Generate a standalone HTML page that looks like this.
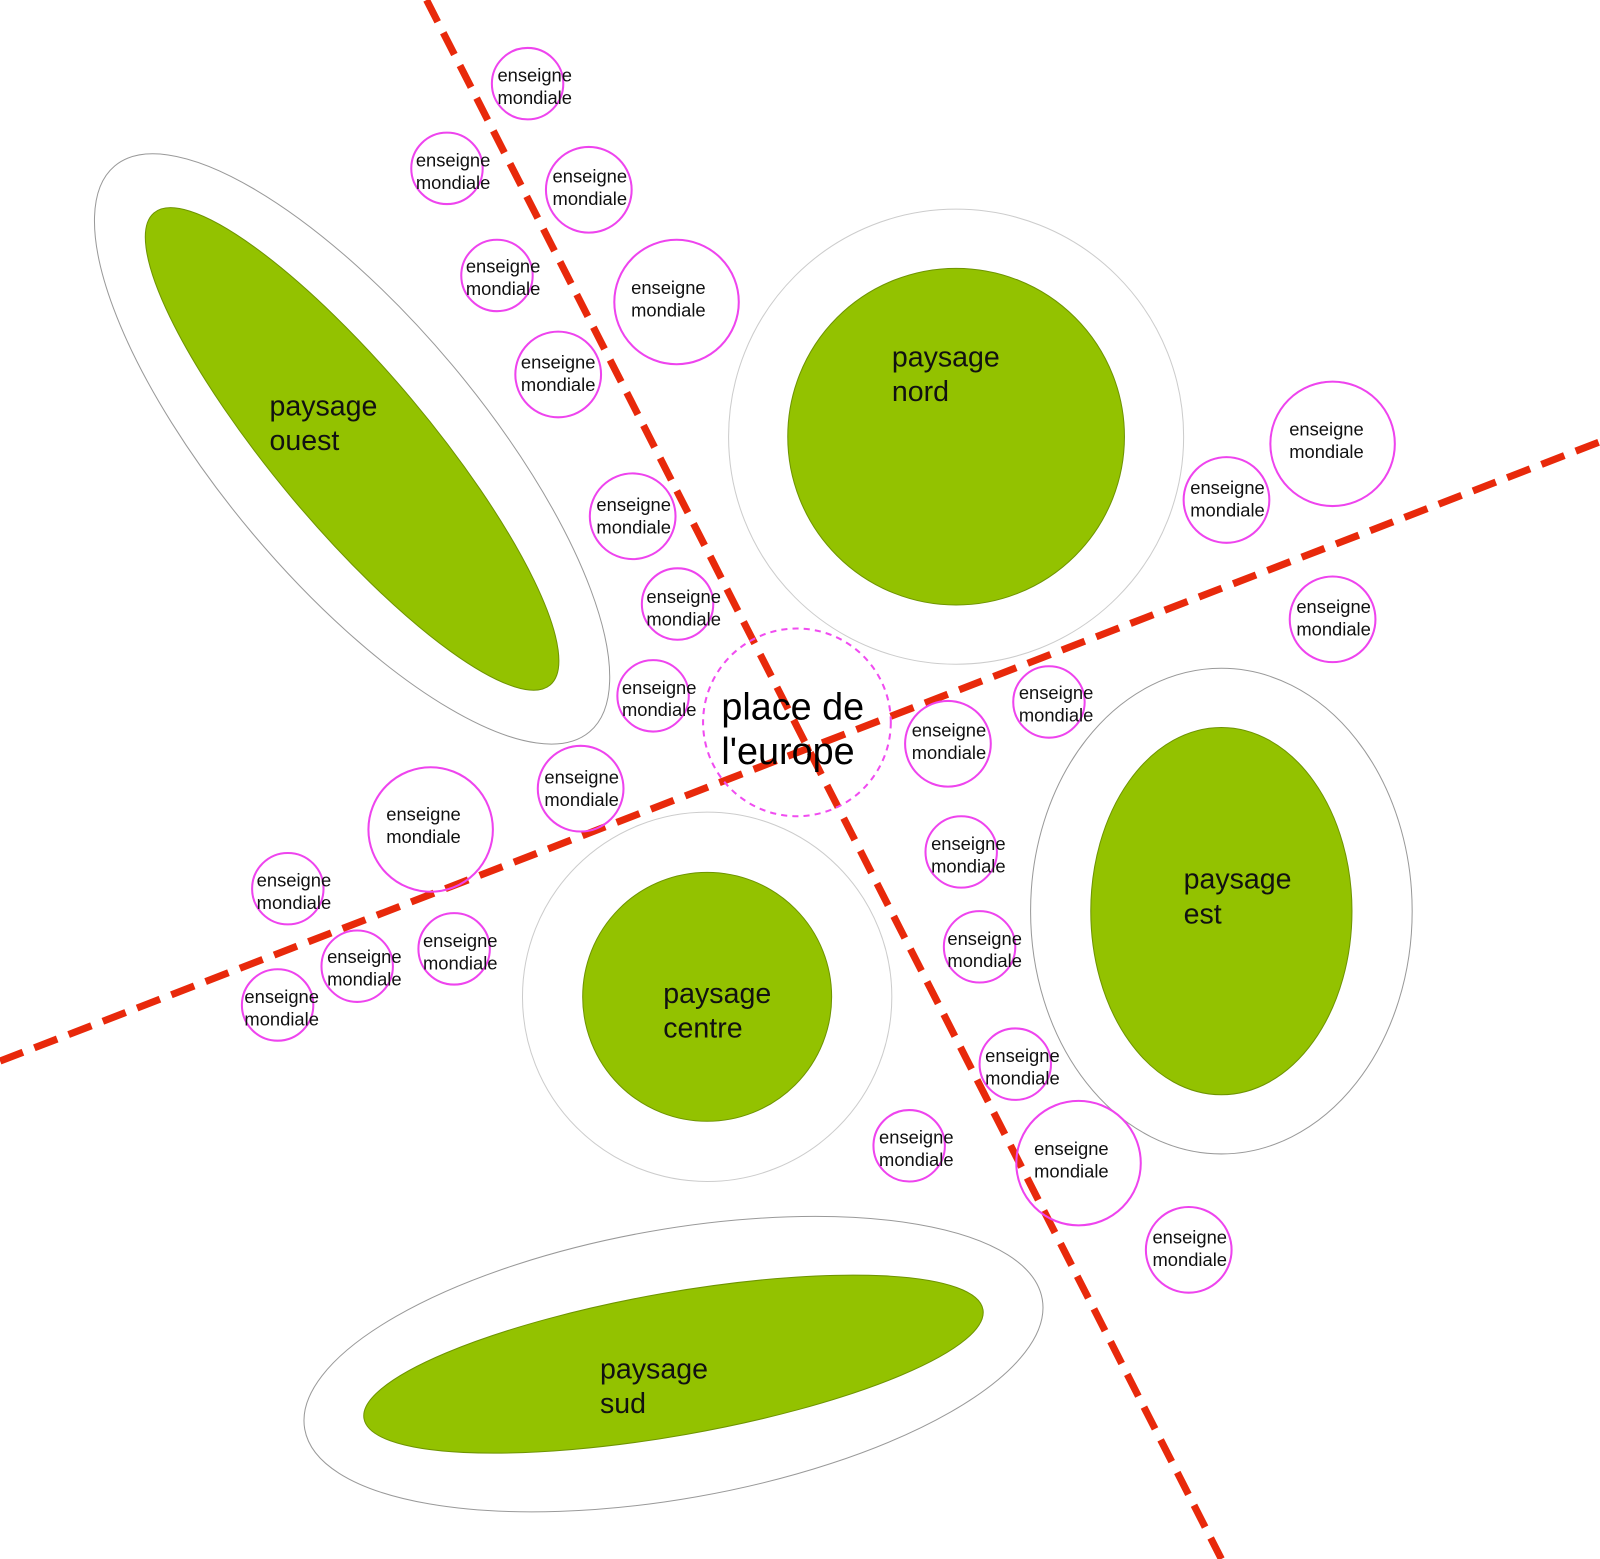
<!DOCTYPE html>
<html><head><meta charset="utf-8"><style>html,body{margin:0;padding:0;background:#fff}svg{display:block}</style></head>
<body>
<svg width="1600" height="1559" viewBox="0 0 1568 1528" xmlns="http://www.w3.org/2000/svg" font-family="Liberation Sans, sans-serif">
<g fill="#fff" stroke="#999" stroke-width="1">
<ellipse cx="345" cy="440" rx="362" ry="128" transform="rotate(50 345 440)"/>
<circle cx="937" cy="428" r="223" stroke="#ccc"/>
<ellipse cx="1197" cy="893" rx="187" ry="238"/>
<circle cx="693" cy="977" r="181" stroke="#ccc"/>
<ellipse cx="660" cy="1337" rx="367" ry="132" transform="rotate(-10 660 1337)"/>
</g>
<g fill="#93c200" stroke="#6e9400" stroke-width="1">
<ellipse cx="345" cy="440" rx="302" ry="76" transform="rotate(50 345 440)"/>
<circle cx="937" cy="428" r="165"/>
<ellipse cx="1197" cy="893" rx="128" ry="180"/>
<circle cx="693" cy="977" r="122"/>
<ellipse cx="660" cy="1337" rx="308" ry="70" transform="rotate(-10 660 1337)"/>
</g>
<g font-size="28" fill="#111">
<text x="264" y="407">paysage</text><text x="264" y="441">ouest</text>
<text x="874" y="359">paysage</text><text x="874" y="393">nord</text>
<text x="1160" y="871">paysage</text><text x="1160" y="905">est</text>
<text x="650" y="983">paysage</text><text x="650" y="1017">centre</text>
<text x="588" y="1351">paysage</text><text x="588" y="1385">sud</text>
</g>
<g stroke="#e8290b" stroke-width="7" stroke-dasharray="24 12" fill="none">
<line x1="418" y1="0" x2="1197" y2="1528"/>
<line x1="0" y1="1040" x2="1568" y2="433"/>
</g>
<circle cx="781" cy="708" r="92" fill="none" stroke="#f04cf0" stroke-width="2" stroke-dasharray="6 5"/>
<g font-size="37" fill="#000"><text x="707" y="705">place de</text><text x="707" y="749">l'europe</text></g>
<g fill="none" stroke="#ee44ee" stroke-width="2">
<circle cx="517" cy="82" r="35"/><circle cx="438" cy="165" r="35"/><circle cx="577" cy="186" r="42"/>
<circle cx="487" cy="270" r="35"/><circle cx="663" cy="296" r="61"/><circle cx="547" cy="367" r="42"/>
<circle cx="620" cy="506" r="42"/><circle cx="664" cy="592" r="35"/><circle cx="640" cy="682" r="35"/>
<circle cx="569" cy="773" r="42"/><circle cx="422" cy="813" r="61"/><circle cx="282" cy="871" r="35"/>
<circle cx="350" cy="947" r="35"/><circle cx="445" cy="930" r="35"/><circle cx="272" cy="985" r="35"/>
<circle cx="929" cy="729" r="42"/><circle cx="1028" cy="688" r="35"/><circle cx="942" cy="835" r="35"/>
<circle cx="960" cy="928" r="35"/><circle cx="995" cy="1043" r="35"/><circle cx="891" cy="1123" r="35"/>
<circle cx="1057" cy="1140" r="61"/><circle cx="1165" cy="1225" r="42"/><circle cx="1306" cy="607" r="42"/>
<circle cx="1202" cy="490" r="42"/><circle cx="1306" cy="435" r="61"/>
</g>
<g font-size="18" fill="#111" text-anchor="middle">
<text x="524" y="80">enseigne</text><text x="524" y="102">mondiale</text>
<text x="444" y="163">enseigne</text><text x="444" y="185">mondiale</text>
<text x="578" y="179">enseigne</text><text x="578" y="201">mondiale</text>
<text x="493" y="267">enseigne</text><text x="493" y="289">mondiale</text>
<text x="655" y="288">enseigne</text><text x="655" y="310">mondiale</text>
<text x="547" y="361">enseigne</text><text x="547" y="383">mondiale</text>
<text x="621" y="501">enseigne</text><text x="621" y="523">mondiale</text>
<text x="670" y="591">enseigne</text><text x="670" y="613">mondiale</text>
<text x="646" y="680">enseigne</text><text x="646" y="702">mondiale</text>
<text x="570" y="768">enseigne</text><text x="570" y="790">mondiale</text>
<text x="415" y="804">enseigne</text><text x="415" y="826">mondiale</text>
<text x="288" y="869">enseigne</text><text x="288" y="891">mondiale</text>
<text x="357" y="944">enseigne</text><text x="357" y="966">mondiale</text>
<text x="451" y="928">enseigne</text><text x="451" y="950">mondiale</text>
<text x="276" y="983">enseigne</text><text x="276" y="1005">mondiale</text>
<text x="930" y="722">enseigne</text><text x="930" y="744">mondiale</text>
<text x="1035" y="685">enseigne</text><text x="1035" y="707">mondiale</text>
<text x="949" y="833">enseigne</text><text x="949" y="855">mondiale</text>
<text x="965" y="926">enseigne</text><text x="965" y="948">mondiale</text>
<text x="1002" y="1041">enseigne</text><text x="1002" y="1063">mondiale</text>
<text x="898" y="1121">enseigne</text><text x="898" y="1143">mondiale</text>
<text x="1050" y="1132">enseigne</text><text x="1050" y="1154">mondiale</text>
<text x="1166" y="1219">enseigne</text><text x="1166" y="1241">mondiale</text>
<text x="1307" y="601">enseigne</text><text x="1307" y="623">mondiale</text>
<text x="1203" y="484">enseigne</text><text x="1203" y="506">mondiale</text>
<text x="1300" y="427">enseigne</text><text x="1300" y="449">mondiale</text>
</g>
</svg>
</body></html>
